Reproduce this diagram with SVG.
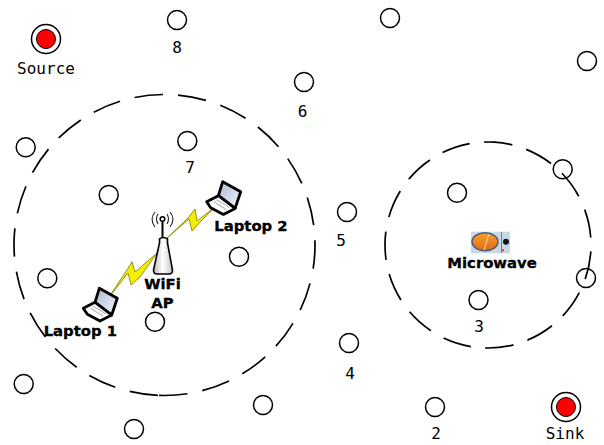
<svg xmlns="http://www.w3.org/2000/svg" width="604" height="445" viewBox="0 0 604 445">
<style>
.n{fill:none;stroke:#000;stroke-width:1.5}
.t{font-family:"DejaVu Sans Mono","Liberation Mono",monospace;font-size:16px;fill:#000;text-anchor:middle}
.b{font-family:"DejaVu Sans","Liberation Sans",sans-serif;font-weight:bold;font-size:14.8px;fill:#000;stroke:#000;stroke-width:.35;text-anchor:middle}
.d{fill:none;stroke:#000;stroke-width:1.7}
.z{fill:#f5ee00;stroke:#7a7a00;stroke-width:.8;stroke-linejoin:round}
.w{fill:none;stroke:#222;stroke-width:1.1}
</style>
<defs>
<linearGradient id="sc" x1="0" y1="0" x2="1" y2="1"><stop offset="0" stop-color="#aab8d0"/><stop offset="1" stop-color="#f4f7fc"/></linearGradient>
<linearGradient id="ap" x1="0" y1="0" x2="1" y2="0"><stop offset="0" stop-color="#bdbdbd"/><stop offset=".5" stop-color="#fff"/><stop offset="1" stop-color="#c4c4c4"/></linearGradient>
<linearGradient id="or" x1="0" y1="0" x2="0" y2="1"><stop offset="0" stop-color="#f7a030"/><stop offset="1" stop-color="#e06a10"/></linearGradient>
<g id="lap">
<path d="M95 302.3L99.3 288.3L117.3 298.3L111.7 315Z" fill="url(#sc)" stroke="#000" stroke-width="2.8" stroke-linejoin="round"/>
<path d="M83.3 308.3L95 302.3L111.7 315L100 321L87.3 314.3Z" fill="#fff" stroke="#000" stroke-width="2.8" stroke-linejoin="round"/>
<path d="M90 308L103 316M93 306L106 314" stroke="#bbb" stroke-width="1.2" fill="none"/>
</g>
</defs>
<rect width="604" height="445" fill="#fff"/>
<g id="connectors">
<circle class="d" cx="164.5" cy="245" r="150.5" stroke-dasharray="28.5 15.1" transform="rotate(92.5 164.5 245)"/>
<circle class="d" cx="488" cy="245" r="103" stroke-dasharray="28.5 14.63" transform="rotate(3.56 488 245)"/>
<path class="z" d="M107 300L127 270L132 261.7L135 272L157 253L140 277L131 285L128 273Z"/>
<path class="z" d="M167 238L188 218L195 209L197 221L215 207L200 222L192 231L189 219Z"/>
</g>
<g id="source"><circle class="n" cx="46" cy="39" r="14.5"/><circle cx="46" cy="39" r="9.5" fill="#f00" stroke="#000" stroke-width="1"/><text class="t" x="46" y="73.5">Source</text></g>
<g id="sink"><circle class="n" cx="566" cy="407" r="14.5"/><circle cx="566" cy="407" r="9.5" fill="#f00" stroke="#000" stroke-width="1"/><text class="t" x="565" y="439">Sink</text></g>
<g id="n8"><circle class="n" cx="177" cy="20" r="9.5"/><text class="t" x="177" y="53">8</text></g>
<g id="n1"><circle class="n" cx="390" cy="18" r="9.5"/></g>
<g id="n9"><circle class="n" cx="587" cy="61" r="9.5"/></g>
<g id="n6"><circle class="n" cx="304" cy="82" r="9.5"/><text class="t" x="302.5" y="117">6</text></g>
<g id="n7"><circle class="n" cx="187.3" cy="141" r="9.5"/><text class="t" x="190" y="173">7</text></g>
<g id="n10"><circle class="n" cx="25.7" cy="147.3" r="9.5"/></g>
<g id="n11"><circle class="n" cx="108.7" cy="195" r="9.5"/></g>
<g id="n12"><circle class="n" cx="457" cy="192.7" r="9.5"/></g>
<g id="n13"><circle class="n" cx="562.7" cy="169.3" r="9.5"/></g>
<g id="n5"><circle class="n" cx="347" cy="212" r="9.5"/><text class="t" x="341" y="246">5</text></g>
<g id="n14"><circle class="n" cx="239" cy="256.7" r="9.5"/></g>
<g id="n15"><circle class="n" cx="47.3" cy="278.3" r="9.5"/></g>
<g id="n16"><circle class="n" cx="586" cy="278" r="9.5"/></g>
<g id="n3"><circle class="n" cx="478.5" cy="300" r="9.5"/><text class="t" x="479" y="331.5">3</text></g>
<g id="n17"><circle class="n" cx="155" cy="321.7" r="9.5"/></g>
<g id="n4"><circle class="n" cx="349" cy="343" r="9.5"/><text class="t" x="350" y="379">4</text></g>
<g id="n18"><circle class="n" cx="23.7" cy="384" r="9.5"/></g>
<g id="n19"><circle class="n" cx="263" cy="405" r="9.5"/></g>
<g id="n2"><circle class="n" cx="435" cy="407" r="9.5"/><text class="t" x="436" y="439">2</text></g>
<g id="n20"><circle class="n" cx="134" cy="429" r="9.5"/></g>
<g id="laptop1"><use href="#lap"/><text class="b" x="80.3" y="335.7">Laptop 1</text></g>
<g id="laptop2"><use href="#lap" transform="translate(123.4,-106.6)"/><text class="b" x="251" y="230.5">Laptop 2</text></g>
<g id="ap-node">
<path d="M153.5 270Q153.5 274 157 274L169 274Q172.5 274 172.5 270L167.5 243L167.5 239Q163.5 236 159.5 239L159.5 243Z" fill="url(#ap)" stroke="#000" stroke-width="1.6"/>
<line x1="162.5" y1="238" x2="162.5" y2="219" stroke="#000" stroke-width="2"/>
<circle cx="162.5" cy="219" r="2.3" fill="#fff" stroke="#000" stroke-width="1.5"/>
<path class="w" d="M158 214Q155 219 158 224M167 214Q170 219 167 224M155 212Q149 219 155 227M170 212Q176 219 170 227"/>
<text class="b" x="162.5" y="289.3">WiFi</text><text class="b" x="162.5" y="307.7">AP</text>
</g>
<g id="microwave">
<rect x="471" y="231.7" width="39" height="21.6" fill="#c9d9e3"/>
<ellipse cx="485" cy="241.7" rx="13" ry="9" fill="url(#or)" stroke="#4a5a80" stroke-width="1.5"/>
<line x1="484" y1="250" x2="489" y2="234" stroke="#fbd9a8" stroke-width="1"/>
<line x1="501.5" y1="232" x2="501.5" y2="253" stroke="#667" stroke-width=".8"/>
<circle cx="506" cy="241.7" r="3" fill="#111"/>
<circle cx="503" cy="250.3" r="1" fill="#f00"/>
<text class="b" x="492" y="268.3">Microwave</text>
</g>
</svg>
